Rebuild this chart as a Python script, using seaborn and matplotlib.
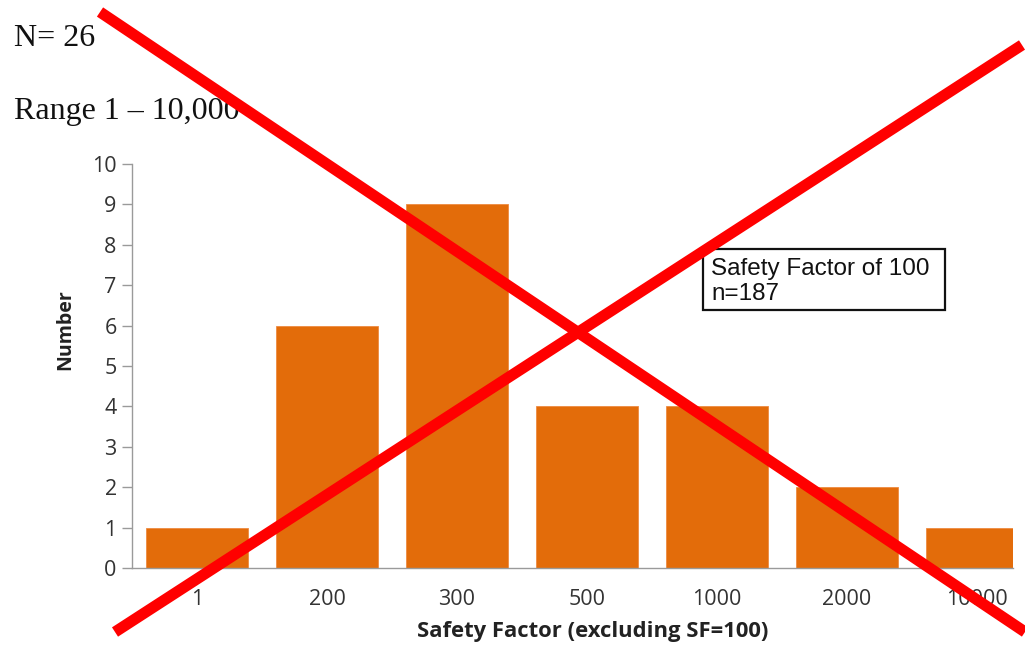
import matplotlib
matplotlib.use("Agg")
import matplotlib.pyplot as plt
import seaborn as sns
import pandas as pd
from matplotlib.lines import Line2D
from matplotlib.patches import Rectangle

# Distribution of safety factors (excluding SF=100)
categories = ["1", "200", "300", "500", "1000", "2000", "10000"]
counts = [1, 6, 9, 4, 4, 2, 1]
y_ticks = list(range(0, 11))

df = pd.DataFrame({"sf": categories, "n": counts})

sns.set_theme(style="white")
plt.rcParams["font.family"] = ["Open Sans", "DejaVu Sans"]

W, H = 1025, 646
fig = plt.figure(figsize=(W / 100, H / 100), dpi=100)


def fx(px):
    return px / W


def fy(py):
    return 1 - py / H


left, right, top, bottom = 132, 1013, 164, 568
ax = fig.add_axes([fx(left), fy(bottom), (right - left) / W, (bottom - top) / H])

sns.barplot(data=df, x="sf", y="n", order=categories, color="#E36C0A",
            saturation=1, width=0.79, edgecolor="#EE8A40", linewidth=0.6, ax=ax)

step = 130.0
ax.set_xlim(-0.5, -0.5 + (right - left) / step)
ax.set_ylim(0, 10)
ax.set_yticks(y_ticks)
ax.set_yticklabels([str(t) for t in y_ticks])

for side in ("top", "right"):
    ax.spines[side].set_visible(False)
for side in ("left", "bottom"):
    ax.spines[side].set_color("#9a9a9a")
    ax.spines[side].set_linewidth(1.0)

ax.tick_params(axis="y", which="major", left=True, length=7, width=1,
               color="#9a9a9a", labelsize=15.5, labelcolor="#333333", pad=4)
ax.tick_params(axis="x", which="major", bottom=False, labelsize=15.5,
               labelcolor="#333333", pad=9)

ax.set_xlabel("Safety Factor (excluding SF=100)", fontsize=15.8, fontweight="bold",
              color="#222222")
ax.set_ylabel("Number", fontsize=14, fontweight="bold", color="#222222")
ax.xaxis.set_label_coords((593 - left) / (right - left), (bottom - 631) / (bottom - top))
ax.yaxis.set_label_coords((65 - left) / (right - left), (bottom - 330) / (bottom - top))
ax.xaxis.label.set_va("center")
ax.yaxis.label.set_va("center")

# Reference group note
fig.add_artist(Rectangle((fx(703), fy(310)), (945 - 703) / W, (310 - 249) / H,
                         transform=fig.transFigure, facecolor="white",
                         edgecolor="#111111", linewidth=1.6, zorder=5))
fig.text(fx(711), fy(275), "Safety Factor of 100", family="Liberation Sans",
         fontsize=17.5, color="#111111", va="baseline", zorder=6)
fig.text(fx(711), fy(300), "n=187", family="Liberation Sans",
         fontsize=17.5, color="#111111", va="baseline", zorder=6)

# Header notes
fig.text(fx(14), fy(46), "N= 26", family="Liberation Serif", fontsize=23,
         color="#111111", va="baseline")
fig.text(fx(14), fy(119), "Range 1 \u2013 10,000", family="Liberation Serif",
         fontsize=23, color="#111111", va="baseline")

# Crossed-out overlay
red = "#FF0000"
fig.add_artist(Line2D([fx(100), fx(1025)], [fy(12), fy(632)],
                      color=red, linewidth=8, solid_capstyle="butt", zorder=10))
fig.add_artist(Line2D([fx(115), fx(1022)], [fy(632), fy(45)],
                      color=red, linewidth=8, solid_capstyle="butt", zorder=10))

fig.savefig("out.png", dpi=100, facecolor="white")
